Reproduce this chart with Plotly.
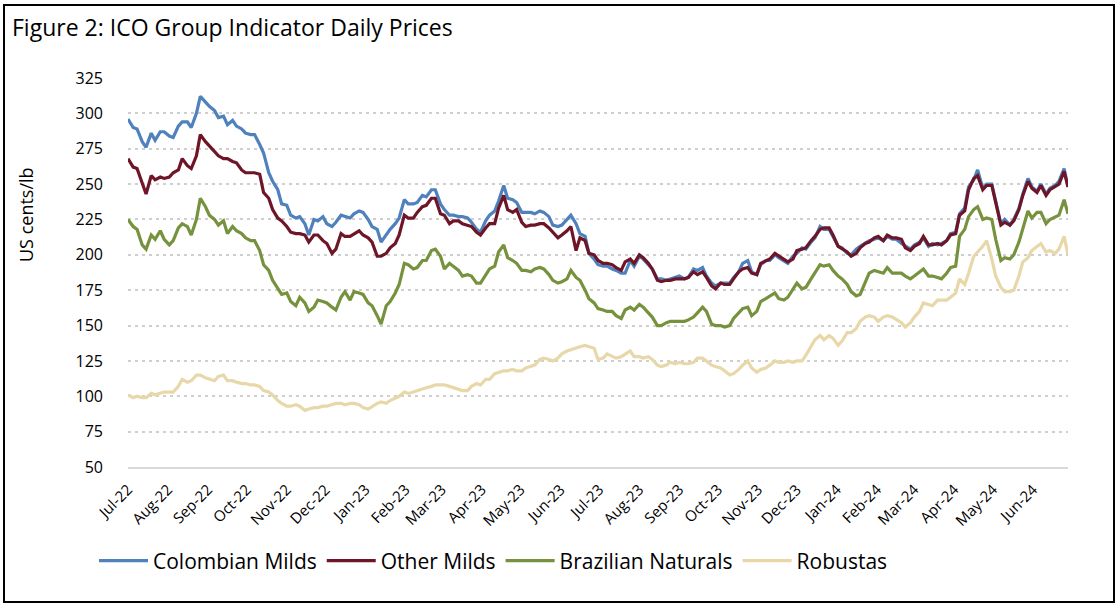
import pandas as pd
import plotly.graph_objects as go

# Readings taken twice a week: Fridays (1 Jul 2022 .. 28 Jun 2024) and Tuesdays in between
fri_dates = pd.date_range("2022-07-01", periods=105, freq="7D")
tue_dates = pd.date_range("2022-07-05", periods=104, freq="7D")

colombian_fri = [
    296, 289, 276, 281, 287, 283, 294, 290, 312, 305, 297, 292, 291, 286, 285, 272,
    252, 236, 228, 227, 214, 224, 222, 223, 227, 229, 230, 220, 209, 218, 226, 236,
    237, 241, 246, 232, 228, 227, 223, 216, 228, 238, 240, 237, 230, 229, 230, 221,
    221, 228, 215, 201, 193, 192, 189, 187, 192, 197, 190, 183, 183, 185, 184, 189,
    185, 178, 180, 184, 194, 188, 193, 196, 198, 194, 201, 204, 212, 218, 213, 205,
    200, 206, 210, 212, 213, 211, 206, 207, 212, 208, 208, 215, 229, 248, 260, 250,
    238, 225, 225, 243, 248, 250, 247, 252, 248,
]
colombian_tue = [
    290, 280, 286, 287, 284, 291, 294, 300, 308, 302, 298, 295, 289, 285, 278, 258,
    246, 235, 226, 222, 225, 227, 220, 228, 226, 231, 225, 218, 214, 222, 239, 236,
    242, 246, 236, 228, 227, 226, 218, 224, 231, 249, 239, 230, 230, 231, 227, 220,
    225, 222, 213, 197, 192, 190, 187, 196, 199, 193, 183, 182, 184, 183, 190, 191,
    180, 180, 180, 188, 196, 186, 196, 200, 196, 199, 205, 209, 220, 218, 206, 201,
    204, 208, 211, 210, 211, 208, 204, 209, 206, 207, 210, 216, 233, 253, 247, 250,
    222, 221, 233, 254, 245, 243, 249, 261,
]
other_fri = [
    268, 261, 243, 253, 254, 258, 268, 261, 285, 277, 270, 268, 265, 258, 258, 244,
    232, 224, 216, 215, 209, 214, 208, 204, 213, 215, 214, 209, 199, 205, 214, 226,
    230, 235, 240, 228, 224, 222, 220, 214, 222, 233, 232, 232, 220, 221, 222, 216,
    214, 220, 212, 201, 196, 194, 191, 195, 194, 198, 190, 181, 182, 183, 184, 186,
    184, 176, 179, 183, 190, 187, 194, 197, 199, 195, 203, 205, 213, 219, 214, 204,
    199, 205, 209, 213, 214, 212, 205, 206, 213, 207, 207, 214, 228, 246, 256, 249,
    237, 223, 224, 242, 247, 249, 246, 250, 248,
]
other_tue = [
    262, 250, 256, 255, 255, 260, 263, 270, 280, 273, 268, 266, 260, 258, 257, 240,
    226, 220, 215, 214, 214, 210, 201, 215, 213, 217, 212, 199, 201, 208, 228, 226,
    234, 240, 229, 222, 224, 221, 216, 219, 222, 242, 230, 223, 221, 222, 219, 212,
    217, 203, 210, 200, 194, 193, 189, 197, 200, 194, 182, 182, 183, 183, 188, 188,
    178, 180, 179, 188, 191, 186, 196, 201, 197, 197, 204, 210, 218, 219, 206, 202,
    201, 208, 212, 210, 212, 211, 203, 208, 207, 208, 210, 215, 231, 254, 246, 249,
    221, 221, 232, 252, 244, 242, 248, 259,
]
brazilian_fri = [
    225, 218, 204, 211, 211, 210, 222, 214, 240, 228, 221, 215, 217, 212, 210, 193,
    182, 172, 167, 170, 160, 168, 166, 161, 174, 174, 172, 164, 151, 167, 179, 193,
    191, 196, 204, 190, 192, 185, 185, 180, 190, 202, 198, 194, 189, 190, 190, 182,
    181, 189, 182, 169, 162, 160, 157, 161, 161, 163, 156, 150, 153, 153, 154, 159,
    160, 150, 149, 155, 162, 157, 167, 171, 169, 170, 180, 177, 187, 192, 189, 183,
    174, 172, 187, 188, 191, 187, 185, 185, 190, 185, 183, 191, 213, 227, 234, 226,
    211, 198, 200, 219, 226, 230, 225, 228, 229,
]
brazilian_tue = [
    220, 207, 214, 217, 207, 219, 220, 225, 234, 225, 224, 220, 215, 210, 203, 189,
    176, 173, 164, 166, 163, 167, 163, 170, 168, 173, 166, 157, 164, 173, 194, 190,
    196, 203, 199, 194, 189, 186, 180, 186, 192, 207, 196, 189, 188, 191, 186, 180,
    183, 184, 175, 166, 161, 160, 155, 163, 165, 159, 150, 152, 153, 153, 156, 163,
    151, 150, 150, 159, 163, 160, 169, 173, 168, 176, 176, 183, 193, 193, 185, 179,
    171, 180, 189, 187, 187, 187, 183, 188, 185, 184, 187, 192, 218, 232, 225, 225,
    196, 197, 209, 231, 230, 222, 227, 239,
]
robustas_fri = [
    101, 100, 99, 101, 103, 103, 112, 111, 115, 112, 114, 111, 110, 109, 108, 104,
    101, 95, 93, 93, 91, 92, 93, 95, 94, 95, 92, 93, 96, 97, 100, 102,
    104, 106, 108, 108, 106, 104, 107, 108, 112, 117, 118, 118, 120, 122, 127, 125,
    130, 133, 135, 135, 126, 130, 127, 130, 128, 127, 126, 121, 124, 124, 123, 127,
    125, 121, 118, 116, 122, 120, 119, 122, 124, 125, 125, 129, 140, 140, 141, 139,
    145, 153, 157, 153, 157, 154, 149, 156, 166, 164, 168, 170, 183, 187, 202, 210,
    185, 174, 175, 195, 203, 208, 203, 204, 200,
]
robustas_tue = [
    99, 99, 102, 102, 103, 107, 110, 115, 113, 111, 115, 111, 109, 108, 107, 103,
    97, 93, 94, 90, 92, 93, 94, 95, 95, 94, 91, 95, 95, 99, 103, 103,
    105, 107, 108, 107, 105, 104, 109, 112, 116, 118, 119, 118, 121, 126, 126, 127,
    132, 134, 136, 134, 127, 128, 128, 132, 128, 128, 122, 122, 123, 123, 124, 127,
    122, 120, 115, 119, 125, 117, 120, 125, 124, 124, 125, 135, 143, 143, 136, 145,
    148, 156, 156, 156, 156, 152, 152, 160, 165, 168, 168, 173, 179, 199, 206, 197,
    177, 174, 185, 198, 206, 202, 201, 213,
]

series_names = ["Colombian Milds", "Other Milds", "Brazilian Naturals", "Robustas"]
series_readings = [
    (colombian_fri, colombian_tue),
    (other_fri, other_tue),
    (brazilian_fri, brazilian_tue),
    (robustas_fri, robustas_tue),
]
series_colors = ["#4F81BD", "#6E1527", "#76923C", "#E8D7A9"]

y_ticks = [50, 75, 100, 125, 150, 175, 200, 225, 250, 275, 300, 325]

title_text = "Figure 2: ICO Group Indicator Daily Prices"
y_title = "US cents/lb"

# ---- layout geometry (pixels) ----
W, H = 1120, 608
PLOT_L, PLOT_R, PLOT_T, PLOT_B = 128, 1068, 78, 467
ML, MR, MT, MB = PLOT_L, W - PLOT_R, PLOT_T, H - PLOT_B
PW, PH = PLOT_R - PLOT_L, PLOT_B - PLOT_T


def px_x(px):
    return (px - PLOT_L) / PW


def px_y(py):
    return (PLOT_B - py) / PH


FONT = "Open Sans, Noto Sans, sans-serif"

fig = go.Figure()
for name, (fri, tue), col in zip(series_names, series_readings, series_colors):
    s = pd.concat([pd.Series(fri, index=fri_dates), pd.Series(tue, index=tue_dates)]).sort_index()
    fig.add_trace(go.Scatter(
        x=s.index, y=s.values, name=name, mode="lines",
        line=dict(color=col, width=3.2),
    ))

fig.update_layout(
    width=W, height=H,
    margin=dict(l=ML, r=MR, t=MT, b=MB, pad=0),
    paper_bgcolor="white", plot_bgcolor="white",
    showlegend=True,
    legend=dict(
        orientation="h", x=px_x(94), y=px_y(561), xanchor="left", yanchor="middle",
        font=dict(family=FONT, size=21, color="#000000"),
        itemwidth=49, tracegroupgap=0,
    ),
    xaxis=dict(
        type="date",
        range=["2022-07-01", "2024-06-28"],
        tick0="2022-07-01", dtick="M1", tickformat="%b-%y",
        tickangle=-45,
        tickfont=dict(family=FONT, size=15, color="#000000"),
        showgrid=False, zeroline=False,
        showline=True, linecolor="#D9D9D9", linewidth=2,
        ticks="", ticklabelstandoff=6,
    ),
    yaxis=dict(
        range=[50, 325], tickvals=y_ticks,
        tickfont=dict(family=FONT, size=16, color="#000000"),
        showgrid=True, gridcolor="#CFCFCF", gridwidth=2, griddash="3px,4px",
        zeroline=False, showline=False, ticks="", ticklabelstandoff=24,
    ),
    annotations=[
        dict(text=title_text, x=px_x(10), y=px_y(27), xref="paper", yref="paper",
             xanchor="left", yanchor="middle", showarrow=False,
             font=dict(family=FONT, size=23, color="#000000")),
        dict(text=y_title, x=px_x(26), y=px_y(215), xref="paper", yref="paper",
             xanchor="center", yanchor="middle", showarrow=False, textangle=-90,
             font=dict(family=FONT, size=18, color="#000000")),
    ],
    shapes=[
        dict(type="rect", xref="paper", yref="paper",
             x0=px_x(4), x1=px_x(1114), y0=px_y(602), y1=px_y(5),
             line=dict(color="#000000", width=2), fillcolor="rgba(0,0,0,0)", layer="below"),
    ],
)

# remove the default 8px page margin so the figure fills the window exactly
fig.write_html(
    "out.html",
    config={"displayModeBar": False},
    post_script="document.body.style.margin='0px';",
)
